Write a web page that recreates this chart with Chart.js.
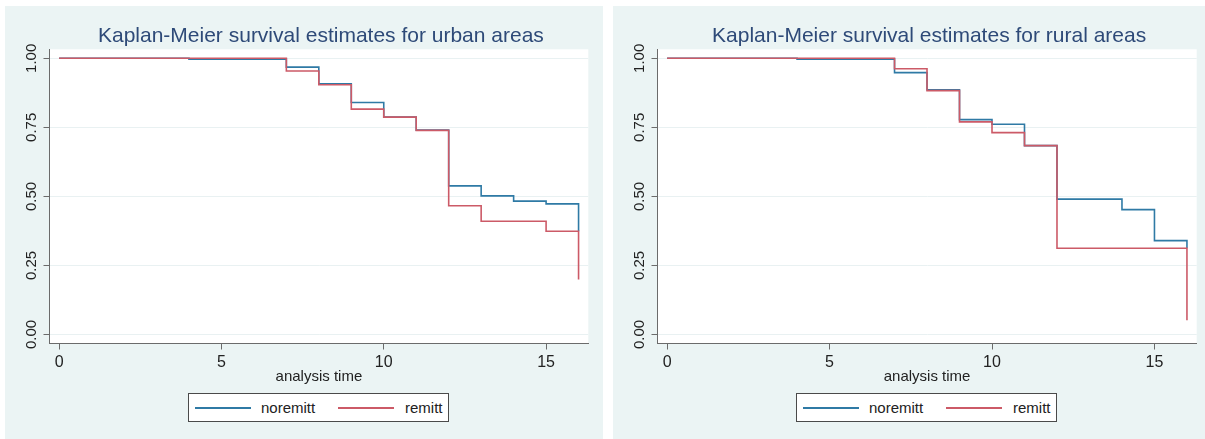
<!DOCTYPE html>
<html>
<head>
<meta charset="utf-8">
<script src="https://cdn.jsdelivr.net/npm/chart.js@4.4.1/dist/chart.umd.min.js"></script>
<style>
  html, body { margin: 0; padding: 0; background: #ffffff; }
  body { width: 1205px; height: 439px; position: relative; overflow: hidden;
         font-family: "Liberation Sans", Arial, Helvetica, sans-serif; }
  .panel { position: absolute; top: 6px; height: 433px; background: #ebf4f4; }
  .panel canvas { position: absolute; left: 0; top: 0; }
  .legend { position: absolute; left: 183px; top: 387px; width: 261px; height: 29px;
            box-sizing: border-box; border: 1px solid #4a4a4a; background: #ffffff; }
  .legend .swatch { position: absolute; top: 13px; height: 2px; width: 56px; }
  .legend .label { position: absolute; top: 5px; font-size: 15px; line-height: 17px; color: #222222; }
</style>
</head>
<body>

<div class="panel" style="left:5px;width:598px;">
  <canvas id="urbanChart" width="598" height="433"></canvas>
  <div class="legend">
    <div class="swatch" style="left:6px;background:#2f7aa5;"></div>
    <div class="label" style="left:72px;">noremitt</div>
    <div class="swatch" style="left:149px;background:#cc5a67;"></div>
    <div class="label" style="left:216px;">remitt</div>
  </div>
</div>

<div class="panel" style="left:613px;width:592px;">
  <canvas id="ruralChart" width="592" height="433"></canvas>
  <div class="legend">
    <div class="swatch" style="left:6px;background:#2f7aa5;"></div>
    <div class="label" style="left:72px;">noremitt</div>
    <div class="swatch" style="left:149px;background:#cc5a67;"></div>
    <div class="label" style="left:216px;">remitt</div>
  </div>
</div>

<script>
// Event times (analysis time) at which the survival estimate changes
const times = [0, 4, 7, 8, 9, 10, 11, 12, 13, 14, 15, 16];

// Kaplan-Meier survival estimates, urban areas
const urbanNoremitt = [1.000, 0.997, 0.968, 0.908, 0.840, 0.787, 0.740, 0.538, 0.502, 0.483, 0.473, 0.374];
const urbanRemitt   = [1.000, 1.000, 0.954, 0.904, 0.816, 0.787, 0.739, 0.466, 0.410, 0.410, 0.374, 0.199];

// Kaplan-Meier survival estimates, rural areas
const ruralNoremitt = [1.000, 0.997, 0.948, 0.886, 0.778, 0.761, 0.684, 0.490, 0.490, 0.452, 0.340, 0.312];
const ruralRemitt   = [1.000, 1.000, 0.962, 0.883, 0.770, 0.731, 0.684, 0.312, 0.312, 0.312, 0.312, 0.052];

// Axis tick values
const xTicks = [0, 5, 10, 15];
const yTicks = [0, 0.25, 0.5, 0.75, 1];

const seriesNames = ['noremitt', 'remitt'];
const seriesColors = ['#2f7aa5', '#cc5a67'];

const AXIS_COLOR = '#6b6b6b';
const TEXT_COLOR = '#222222';
const FONT = '"Liberation Sans", Arial, Helvetica, sans-serif';

const toPoints = (ys) => times.map((t, i) => ({ x: t, y: ys[i] }));

// White plotting region on top of the panel background
const plotBackground = {
  id: 'plotBackground',
  beforeDraw(chart) {
    const { ctx, chartArea: a } = chart;
    ctx.save();
    ctx.fillStyle = '#ffffff';
    ctx.fillRect(a.left, a.top, a.right - a.left, a.bottom - a.top);
    ctx.restore();
  }
};

// Title centred over the plotting region
const panelTitle = {
  id: 'panelTitle',
  afterDraw(chart, args, opts) {
    const { ctx, chartArea: a } = chart;
    ctx.save();
    ctx.font = '21px ' + FONT;
    ctx.fillStyle = '#2e4a78';
    ctx.textAlign = 'center';
    ctx.textBaseline = 'alphabetic';
    ctx.fillText(opts.text, (a.left + a.right) / 2 + 2, 35.5);
    ctx.restore();
  }
};

function makeChart(canvasId, title, noremitt, remitt, padRight) {
  const datasets = [noremitt, remitt].map((ys, i) => ({
    label: seriesNames[i],
    data: toPoints(ys),
    borderColor: seriesColors[i],
    backgroundColor: seriesColors[i],
    borderWidth: 1.6,
    pointRadius: 0,
    fill: false,
    stepped: 'before',
    order: i === 0 ? 1 : 0
  }));

  return new Chart(document.getElementById(canvasId), {
    type: 'line',
    data: { datasets },
    plugins: [plotBackground, panelTitle],
    options: {
      responsive: false,
      animation: false,
      devicePixelRatio: 1,
      parsing: false,
      layout: { padding: { top: 43.3, left: 0, right: padRight, bottom: 53.5 } },
      plugins: {
        legend: { display: false },
        tooltip: { enabled: false },
        title: { display: false },
        panelTitle: { text: title }
      },
      scales: {
        x: {
          type: 'linear',
          min: -0.295,
          max: 16.3,
          afterBuildTicks: (s) => { s.ticks = xTicks.map(v => ({ value: v })); },
          afterFit: (s) => { s.height = 42; },
          grid: { display: true, drawOnChartArea: false, drawTicks: true, tickLength: 6, tickColor: AXIS_COLOR },
          border: { display: true, color: AXIS_COLOR, width: 1 },
          ticks: { color: TEXT_COLOR, font: { family: FONT, size: 16 }, padding: 3, maxRotation: 0, autoSkip: false },
          title: { display: true, text: 'analysis time', color: TEXT_COLOR,
                   font: { family: FONT, size: 15 }, padding: { top: 0, bottom: 0 } }
        },
        y: {
          type: 'linear',
          min: -0.0326,
          max: 1.0326,
          afterBuildTicks: (s) => { s.ticks = yTicks.map(v => ({ value: v })); },
          afterFit: (s) => { s.width = 44.5; },
          grid: { display: true, drawOnChartArea: true, color: '#e9f1f2', lineWidth: 1,
                  drawTicks: true, tickLength: 6, tickColor: AXIS_COLOR },
          border: { display: true, color: AXIS_COLOR, width: 1 },
          ticks: { color: TEXT_COLOR, font: { family: FONT, size: 15 }, padding: -2.5,
                   minRotation: 90, maxRotation: 90, crossAlign: 'center',
                   callback: (v) => Number(v).toFixed(2) }
        }
      }
    }
  });
}

makeChart('urbanChart', 'Kaplan-Meier survival estimates for urban areas', urbanNoremitt, urbanRemitt, 14.7);
makeChart('ruralChart', 'Kaplan-Meier survival estimates for rural areas', ruralNoremitt, ruralRemitt, 8.3);
</script>
</body>
</html>
